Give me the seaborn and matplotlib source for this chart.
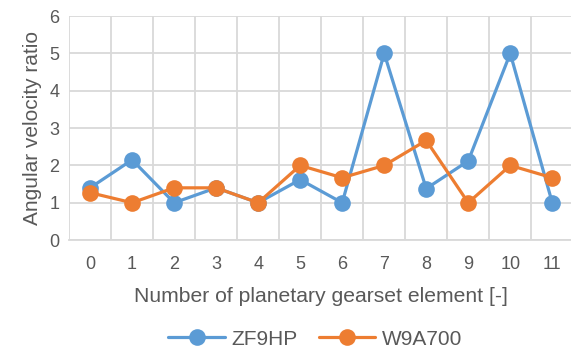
import numpy as np
import pandas as pd
import matplotlib
matplotlib.use("Agg")
import matplotlib.pyplot as plt
import seaborn as sns

elements = list(range(12))
zf9hp = [1.40, 2.15, 1.00, 1.40, 1.00, 1.62, 1.00, 5.00, 1.38, 2.12, 5.00, 1.00]
w9a700 = [1.27, 1.00, 1.40, 1.40, 1.00, 2.00, 1.67, 2.00, 2.67, 1.00, 2.00, 1.67]
series_names = ["ZF9HP", "W9A700"]
y_ticks = [0, 1, 2, 3, 4, 5, 6]

df = pd.DataFrame({
    "element": elements * 2,
    "ratio": zf9hp + w9a700,
    "series": [series_names[0]] * 12 + [series_names[1]] * 12,
})

sns.set_theme(style="white")
plt.rcParams["font.family"] = ["Liberation Sans", "DejaVu Sans"]
text_color = "#595959"
grid_color = "#D9D9D9"
palette = {"ZF9HP": "#5B9BD5", "W9A700": "#ED7D31"}

fig = plt.figure(figsize=(5.71, 3.5), dpi=100)
ax = fig.add_axes([0.121, 0.314, 0.883, 0.640])

sns.lineplot(data=df, x="element", y="ratio", hue="series", palette=palette,
             marker="o", markersize=12, markeredgewidth=0, linewidth=2.3,
             ax=ax, legend=True)

ax.set_xlim(-0.5, 11.5)
ax.set_ylim(0, 6)
ax.set_yticks(y_ticks)
ax.set_xticks(elements)
ax.set_xticks(np.arange(-0.5, 12.0, 1.0), minor=True)
ax.grid(False)
ax.yaxis.grid(True, which="major", color=grid_color, linewidth=1.3)
ax.xaxis.grid(True, which="minor", color=grid_color, linewidth=1.3)
ax.set_axisbelow(True)
for s in ["top", "right", "left"]:
    ax.spines[s].set_visible(False)
ax.spines["bottom"].set_color(grid_color)
ax.spines["bottom"].set_linewidth(1.3)
ax.tick_params(axis="both", which="both", length=0, colors=text_color, labelsize=13)
ax.tick_params(axis="x", pad=11.5)
ax.tick_params(axis="y", pad=7)

ax.set_xlabel("Number of planetary gearset element [-]", fontsize=15.2, color=text_color, labelpad=10)
ax.set_ylabel("Angular velocity ratio", fontsize=15, color=text_color, labelpad=5)

handles, labels = ax.get_legend_handles_labels()
ax.legend(handles, labels, loc="center", bbox_to_anchor=(0.488, -0.442), ncol=2,
          frameon=False, fontsize=15, labelcolor=text_color, handlelength=2.7,
          columnspacing=1.05, handletextpad=0.3, borderpad=0)

fig.savefig("out.png", dpi=100)
